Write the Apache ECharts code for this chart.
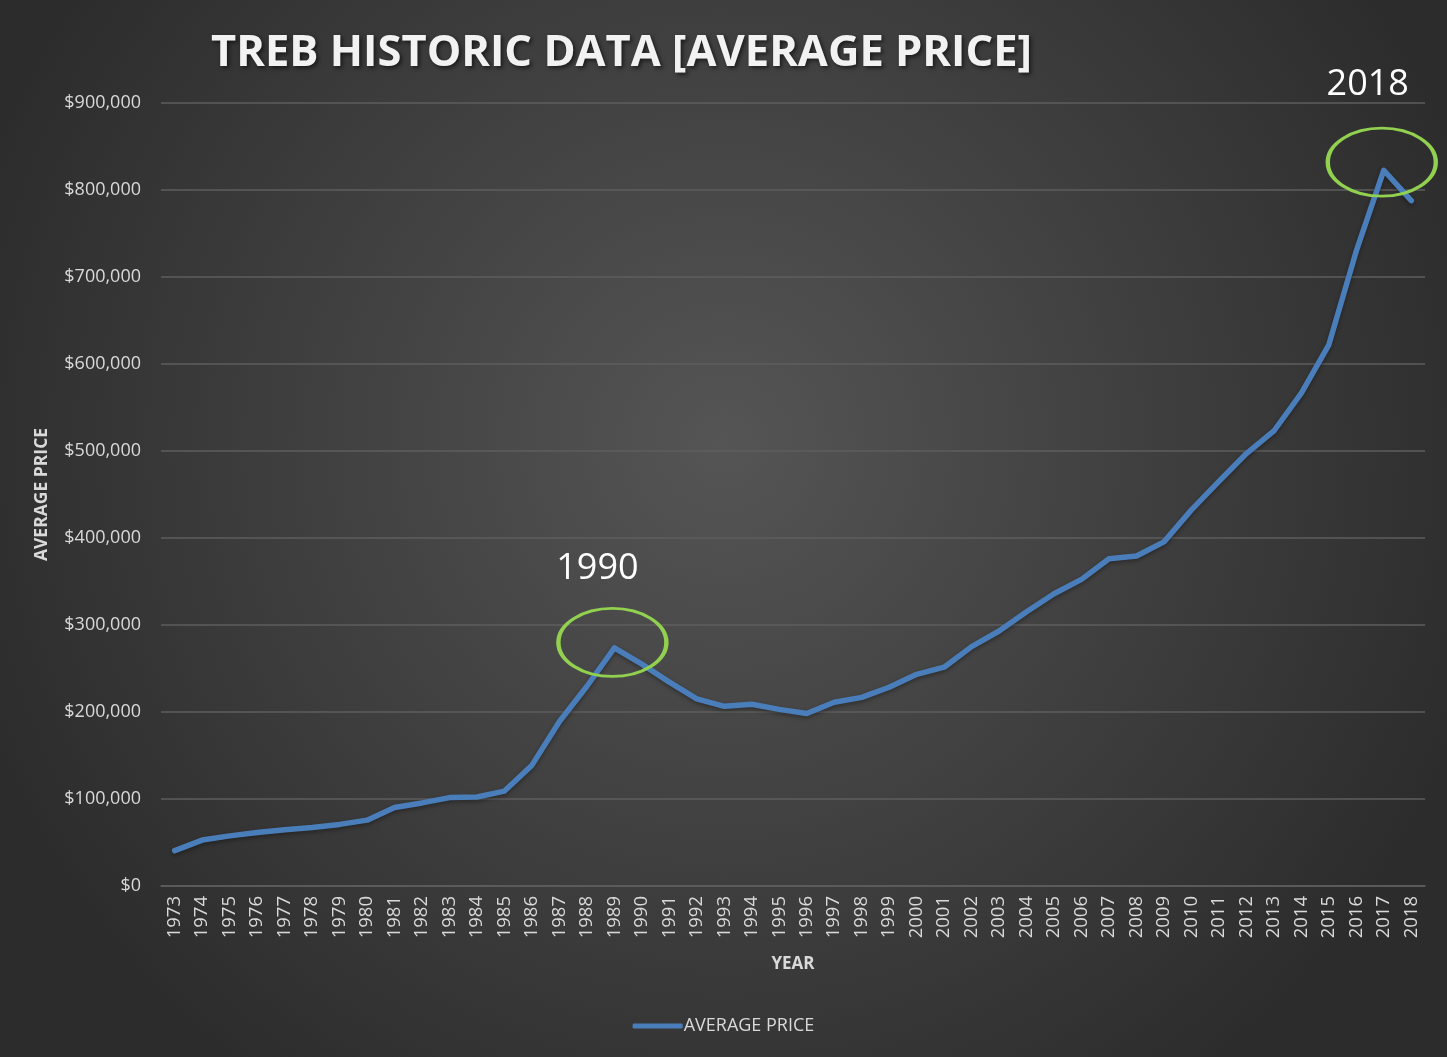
<!DOCTYPE html>
<html>
	<head>
		<meta charset="utf-8">
		<title>TREB Historic Data</title>
		<script src="https://cdn.jsdelivr.net/npm/echarts@6.0.0/dist/echarts.min.js"></script>
		<style>
			html, body { margin: 0; padding: 0; background: #3a3a3a; }
		</style>
	</head>
	<body>
		<div id="main" style="width: 1447px;height:1057px;"></div>
		<script type="text/javascript">
			// years on the x axis
			var years = ['1973','1974','1975','1976','1977','1978','1979','1980','1981','1982',
				'1983','1984','1985','1986','1987','1988','1989','1990','1991','1992',
				'1993','1994','1995','1996','1997','1998','1999','2000','2001','2002',
				'2003','2004','2005','2006','2007','2008','2009','2010','2011','2012',
				'2013','2014','2015','2016','2017','2018'];
			// average price
			var avgPrice = [40600, 52800, 57600, 61400, 64600, 67300, 70800, 75700, 90200, 95500,
				101600, 102300, 109100, 138900, 189100, 229600, 273700, 255000, 234300, 215000,
				206500, 208900, 203000, 198200, 211300, 216800, 228400, 243300, 251500, 275200,
				293100, 315200, 335900, 352400, 376200, 379300, 395500, 432300, 465000, 497100,
				523000, 566600, 622100, 729900, 822700, 787800];
			// highlighted peaks: [year, value at ellipse centre, label]
			var highlights = [
				['1989', 280000, '1990'],
				['2017', 832000, '2018']
			];
			// label nudges for each highlight
			var labelDist = [20, 24];
			var labelShift = [-15, -14];

			var myChart = echarts.init(document.getElementById('main'));
			var txt = '#d9d9d9';
			var font = 'Open Sans';

			var option = {
				backgroundColor: {
					type: 'radial', x: 0.5, y: 0.42, r: 0.75,
					colorStops: [
						{ offset: 0, color: '#555555' },
						{ offset: 1, color: '#2c2c2c' }
					]
				},
				textStyle: { fontFamily: font },
				title: {
					text: 'TREB HISTORIC DATA [AVERAGE PRICE]',
					left: 206, top: 27,
					textStyle: {
						color: '#f2f2f2', fontSize: 43.5, fontWeight: 'bold', fontFamily: font,
						textShadowColor: 'rgba(0,0,0,0.6)', textShadowBlur: 4, textShadowOffsetX: 2, textShadowOffsetY: 2
					}
				},
				legend: {
					bottom: 17, left: 'center',
					itemWidth: 50, itemHeight: 5, itemGap: 4,
					icon: 'roundRect',
					textStyle: { color: txt, fontSize: 18, fontFamily: font, padding: [0, 0, 0, -4] },
					data: ['AVERAGE PRICE']
				},
				grid: { left: 161, right: 22, top: 103, bottom: 171 },
				xAxis: {
					type: 'category',
					data: years,
					boundaryGap: true,
					name: 'YEAR',
					nameLocation: 'middle',
					nameGap: 70,
					nameTextStyle: { color: txt, fontSize: 17, fontWeight: 'bold', fontFamily: font },
					axisLine: { lineStyle: { color: '#5e5e5e', width: 1.5 } },
					axisTick: { show: false },
					axisLabel: { rotate: 90, interval: 0, color: txt, fontSize: 18.5, margin: 10, fontFamily: font }
				},
				yAxis: {
					type: 'value',
					min: 0, max: 900000, interval: 100000,
					name: 'AVERAGE PRICE',
					nameLocation: 'middle',
					nameGap: 110,
					nameTextStyle: { color: txt, fontSize: 17.5, fontWeight: 'bold', fontFamily: font },
					axisLine: { show: false },
					axisTick: { show: false },
					axisLabel: {
						color: txt, fontSize: 18, margin: 20, fontFamily: font,
						formatter: function (v) { return '$' + v.toLocaleString('en-US'); }
					},
					splitLine: { lineStyle: { color: '#5e5e5e', width: 1.5 } }
				},
				series: [{
					name: 'AVERAGE PRICE',
					type: 'line',
					data: avgPrice,
					symbol: 'none',
					lineStyle: { color: '#4a7ebb', width: 5.5, cap: 'round', join: 'round',
						shadowColor: 'rgba(0,0,0,0.35)', shadowBlur: 4, shadowOffsetY: 2 },
					itemStyle: { color: '#4a7ebb' },
					markPoint: {
						symbol: 'circle',
						symbolSize: [108, 68],
						silent: true,
						itemStyle: { color: 'rgba(0,0,0,0)', borderColor: '#92d050', borderWidth: 3.5 },
						label: {
							show: true, position: 'top',
							color: '#ffffff', fontSize: 36, fontFamily: font,
							formatter: function (p) { return p.name; }
						},
						data: highlights.map(function (h, i) {
							return {
								name: h[2], coord: [h[0], h[1]],
								symbolOffset: [-2, 0],
								label: { distance: labelDist[i], offset: [labelShift[i], 0] }
							};
						})
					}
				}]
			};
			myChart.setOption(option);
		</script>
	</body>
</html>
